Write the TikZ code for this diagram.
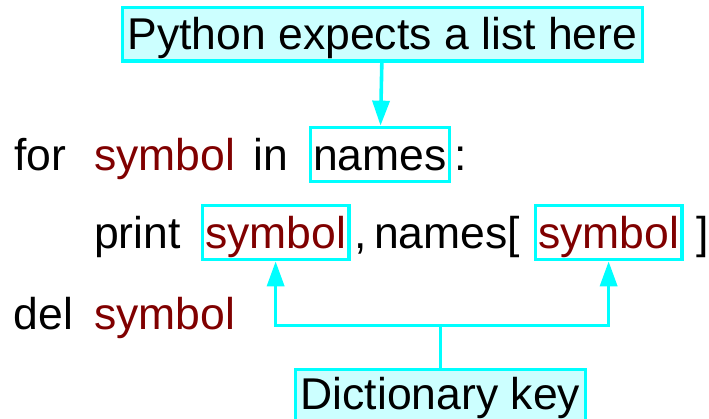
\documentclass[tikz,border=0pt]{standalone}
\usepackage{fontspec}
\setmainfont{Liberation Sans}
\usetikzlibrary{arrows.meta, positioning}
\definecolor{boxcyan}{HTML}{00FFFF}
\definecolor{notefill}{HTML}{CCFFFF}
\definecolor{varred}{HTML}{800000}

\begin{document}
\begin{tikzpicture}[
    x=1pt, y=-1pt,
    every node/.style={font=\fontsize{44.5}{50}\selectfont},
    word/.style={inner sep=0pt, anchor=base west},
    var/.style={word, text=varred},
    codebox/.style={
        draw=boxcyan,
        line width=3.3pt,
        inner xsep=3pt,
        inner ysep=0pt,
        text height=42.7pt,
        text depth=11.2pt,
        anchor=base west
    },
    note/.style={codebox, fill=notefill, inner xsep=5.5pt, anchor=north west},
    link/.style={draw=boxcyan, line width=3.6pt},
    arr/.style={link, -{Triangle[length=25pt, width=17pt]}}
]
\useasboundingbox (0,0) rectangle (709,418);

% 提示框
\node[note] (hint) at (120.5,5.5) {Python expects a list here};

% 第一行
\node[word] (for) at (14,170) {for};
\node[var] (sym0) at (94,170) {symbol};
\node[word] (in) at (253,170) {in};
\node[codebox] (names) at (308.5,170) {names};
\node[word] (colon) at (454,170) {:};

% 第二行
\node[word] (print) at (94,248.5) {print};
\node[codebox, text=varred] (key1) at (200.5,248.5) {symbol};
\node[word] (comma) at (354,248.5) {,};
\node[word] (index) at (374,248.5) {names[};
\node[codebox, text=varred] (key2) at (533.5,248.5) {symbol};
\node[word] (close) at (696,248.5) {]};

% 第三行
\node[word] (del) at (13.5,329) {del};
\node[var] (sym3) at (94,329) {symbol};

\node[note, text height=40pt, text depth=13.9pt] (dict) at (293.5,367.7) {Dictionary key};

% 箭头
\draw[arr] (hint) -- (names);
\coordinate (fork) at (dict.north |- 0,325.5);
\draw[link] (dict.north) -- (fork);
\draw[arr] (fork) -| (key1.south);
\draw[arr] (fork) -| (key2.south);

\end{tikzpicture}
\end{document}
